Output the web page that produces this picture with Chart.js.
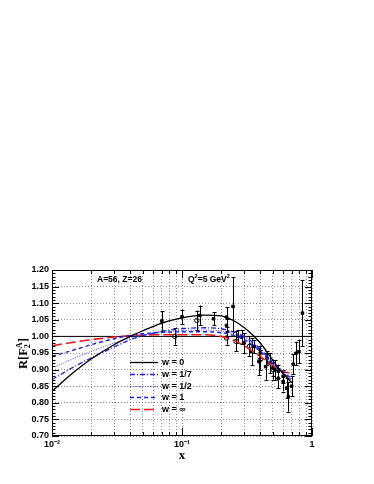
<!DOCTYPE html>
<html lang="en">
<head>
<meta charset="UTF-8">
<title>R[F2A] versus x</title>
<script src="https://cdn.jsdelivr.net/npm/chart.js"></script>
<style>
  body { margin: 0; background: #fff; }
  canvas { display: block; }
</style>
</head>
<body>
<canvas id="myChart" width="374" height="484"></canvas>
<script>
// model curves, all sampled at the same x values
let curveX  = [0.01, 0.015, 0.02, 0.03, 0.04, 0.05, 0.07, 0.1, 0.15, 0.2, 0.25, 0.3, 0.35, 0.4, 0.46, 0.55, 0.62, 0.7];
let wZero   = [0.835, 0.895, 0.932, 0.975, 1.000, 1.017, 1.040, 1.056, 1.064, 1.062, 1.047, 1.027, 1.004, 0.980, 0.948, 0.905, 0.882, 0.860];
let wSeven  = [0.870, 0.910, 0.935, 0.968, 0.990, 1.002, 1.015, 1.023, 1.026, 1.023, 1.013, 1.000, 0.982, 0.962, 0.935, 0.903, 0.885, 0.866];
let wHalf   = [0.905, 0.935, 0.955, 0.980, 0.995, 1.004, 1.012, 1.017, 1.019, 1.016, 1.007, 0.994, 0.977, 0.958, 0.932, 0.903, 0.886, 0.870];
let wOne    = [0.940, 0.960, 0.975, 0.993, 1.003, 1.008, 1.012, 1.014, 1.014, 1.011, 1.003, 0.990, 0.973, 0.955, 0.930, 0.904, 0.888, 0.874];
let wInf    = [0.972, 0.983, 0.990, 0.998, 1.002, 1.004, 1.005, 1.005, 1.005, 1.000, 0.988, 0.972, 0.955, 0.940, 0.922, 0.902, 0.893, 0.888];
let curveLabels = ["w = 0", "w = 1/7", "w = 1/2", "w = 1", "w = \u221e"];

// measured points (filled markers)
let ptsX   = [0.07, 0.10, 0.137, 0.175, 0.22, 0.22, 0.247, 0.268, 0.288, 0.30, 0.344, 0.36, 0.391, 0.40, 0.44, 0.45, 0.475, 0.50, 0.519, 0.55, 0.55, 0.60, 0.60, 0.638, 0.657, 0.698, 0.718, 0.753, 0.794, 0.845];
let ptsY   = [1.046, 1.059, 1.063, 1.053, 1.058, 1.033, 1.090, 1.000, 0.998, 0.980, 0.954, 0.970, 0.924, 0.950, 0.909, 0.935, 0.920, 0.905, 0.899, 0.874, 0.895, 0.864, 0.880, 0.844, 0.818, 0.850, 0.916, 0.949, 0.954, 1.070];
let ptsErr = [0.030, 0.022, 0.030, 0.020, 0.030, 0.020, 0.088, 0.020, 0.020, 0.030, 0.040, 0.020, 0.040, 0.020, 0.040, 0.020, 0.030, 0.025, 0.030, 0.030, 0.020, 0.030, 0.020, 0.030, 0.045, 0.030, 0.030, 0.035, 0.035, 0.100];

// measured points (open circles)
let openX   = [0.088, 0.13, 0.22, 0.26, 0.33, 0.40, 0.50];
let openY   = [1.000, 1.048, 0.995, 0.985, 0.970, 0.930, 0.900];
let openErr = [0.025, 0.030, 0.020, 0.030, 0.030, 0.030, 0.030];

// axes
let yMin = 0.70, yMax = 1.20, yStep = 0.05;
let xTickValues = [0.01, 0.02, 0.03, 0.04, 0.05, 0.06, 0.07, 0.08, 0.09,
                   0.1, 0.2, 0.3, 0.4, 0.5, 0.6, 0.7, 0.8, 0.9, 1];
let xTickLabels = { "0.01": "10\u207b\u00b2", "0.1": "10\u207b\u00b9", "1": "1" };
let xDecades = [0.01, 0.1, 1];

function pairs(xs, ys) {
    return xs.map((x, i) => ({ x: x, y: ys[i] }));
}

const SANS = "'Liberation Sans', Arial, sans-serif";
const SERIF = "'Liberation Serif', 'Times New Roman', serif";

// draws a text made of pieces, some raised or lowered
function drawRich(ctx, parts, x, y, size) {
    let cx = x;
    for (const p of parts) {
        let s = p.sup || p.sub ? size * 0.65 : size;
        ctx.font = "bold " + s + "px " + (p.serif ? SERIF : SANS);
        let dy = p.sup ? -size * 0.42 : (p.sub ? size * 0.25 : 0);
        ctx.fillText(p.t, cx, y + dy);
        if (!p.keep) cx += ctx.measureText(p.t).width;
    }
}

function drawBars(ctx, xs, ys, es, sx, sy) {
    ctx.strokeStyle = "#000";
    ctx.lineWidth = 1;
    ctx.setLineDash([]);
    for (let i = 0; i < xs.length; i++) {
        let px = Math.round(sx.getPixelForValue(xs[i])) + 0.5;
        let top = sy.getPixelForValue(ys[i] + es[i]);
        let bot = sy.getPixelForValue(ys[i] - es[i]);
        ctx.beginPath();
        ctx.moveTo(px, top); ctx.lineTo(px, bot);
        ctx.moveTo(px - 2, Math.round(top) + 0.5); ctx.lineTo(px + 2, Math.round(top) + 0.5);
        ctx.moveTo(px - 2, Math.round(bot) + 0.5); ctx.lineTo(px + 2, Math.round(bot) + 0.5);
        ctx.stroke();
    }
}

const rootStyle = {
    id: "rootStyle",
    beforeDatasetsDraw(chart) {
        const { ctx, scales: { x, y } } = chart;
        ctx.save();
        drawBars(ctx, ptsX, ptsY, ptsErr, x, y);
        drawBars(ctx, openX, openY, openErr, x, y);
        ctx.restore();
    },
    afterDraw(chart) {
        const { ctx, chartArea: a, scales: { x, y } } = chart;
        ctx.save();
        ctx.strokeStyle = "#000";
        ctx.lineWidth = 1;
        ctx.setLineDash([]);
        ctx.strokeRect(a.left + 0.5, a.top + 0.5, a.right - a.left - 1, a.bottom - a.top - 1);

        // ticks drawn inside the frame, like ROOT
        ctx.beginPath();
        for (let k = 0; k <= 50; k++) {
            let v = yMin + k * 0.01;
            let py = Math.round(y.getPixelForValue(v)) + 0.5;
            let len = k % 5 === 0 ? 7 : 3.5;
            ctx.moveTo(a.left, py); ctx.lineTo(a.left + len, py);
            ctx.moveTo(a.right, py); ctx.lineTo(a.right - len, py);
        }
        for (const v of xTickValues) {
            let px = Math.round(x.getPixelForValue(v)) + 0.5;
            let len = xDecades.includes(v) ? 8 : 4;
            ctx.moveTo(px, a.bottom); ctx.lineTo(px, a.bottom - len);
            ctx.moveTo(px, a.top); ctx.lineTo(px, a.top + len);
        }
        ctx.stroke();

        // legend
        let curves = chart.data.datasets.filter(d => d.inLegend);
        let rowY = a.top + 92;
        curves.forEach((d, i) => {
            let ly = Math.round(rowY + i * 11.8) + 0.5;
            ctx.beginPath();
            ctx.strokeStyle = d.borderColor;
            ctx.lineWidth = d.borderWidth;
            ctx.setLineDash(d.borderDash || []);
            ctx.moveTo(a.left + 78, ly);
            ctx.lineTo(a.left + 106, ly);
            ctx.stroke();
            ctx.setLineDash([]);
            ctx.fillStyle = "#000";
            ctx.font = "bold 9px " + SANS;
            ctx.textBaseline = "middle";
            ctx.fillText(d.label, a.left + 110, ly);
        });

        // annotations
        ctx.fillStyle = "#000";
        ctx.textBaseline = "alphabetic";
        drawRich(ctx, [{ t: "A=56, Z=26" }], 97, 282, 8.5);
        drawRich(ctx, [{ t: "Q" }, { t: "2", sup: true }, { t: "=5 GeV" }, { t: "2", sup: true }], 188, 282, 8.5);

        // axis titles
        ctx.font = "bold 13px " + SERIF;
        ctx.textAlign = "center";
        ctx.fillText("x", (a.left + a.right) / 2, 459);
        ctx.textAlign = "left";
        ctx.translate(27, 369);
        ctx.rotate(-Math.PI / 2);
        drawRich(ctx, [{ t: "R[F", serif: true }, { t: "2", sub: true, serif: true, keep: true },
                       { t: "A", sup: true, serif: true }, { t: "]", serif: true }], 0, 0, 12.5);
        ctx.restore();
    }
};

let ctx = document.getElementById("myChart").getContext("2d");
let myChart = new Chart(ctx, {
    type: "line",
    data: {
        datasets: [
            { label: "unity", data: pairs([0.01, 1], [1, 1]), borderColor: "#000", borderWidth: 1, pointRadius: 0, order: 9 },
            { label: curveLabels[0], inLegend: true, data: pairs(curveX, wZero), borderColor: "#000", borderWidth: 1.3, pointRadius: 0, cubicInterpolationMode: "monotone" },
            { label: curveLabels[1], inLegend: true, data: pairs(curveX, wSeven), borderColor: "#1f1fe6", borderWidth: 1.3, borderDash: [5, 2, 1, 2], pointRadius: 0, cubicInterpolationMode: "monotone" },
            { label: curveLabels[2], inLegend: true, data: pairs(curveX, wHalf), borderColor: "#3a3aff", borderWidth: 1, borderDash: [1, 1.5], pointRadius: 0, cubicInterpolationMode: "monotone" },
            { label: curveLabels[3], inLegend: true, data: pairs(curveX, wOne), borderColor: "#1f1fe6", borderWidth: 1.4, borderDash: [4, 3], pointRadius: 0, cubicInterpolationMode: "monotone" },
            { label: curveLabels[4], inLegend: true, data: pairs(curveX, wInf), borderColor: "#e51a1a", borderWidth: 1.6, borderDash: [10, 4], pointRadius: 0, cubicInterpolationMode: "monotone" },
            { label: "data", type: "scatter", data: pairs(ptsX, ptsY), showLine: false, pointStyle: "rect", pointRadius: 1.8, backgroundColor: "#000", borderColor: "#000", borderWidth: 1 },
            { label: "data open", type: "scatter", data: pairs(openX, openY), showLine: false, pointStyle: "circle", pointRadius: 2.2, backgroundColor: "rgba(0,0,0,0)", borderColor: "#000", borderWidth: 1 }
        ]
    },
    options: {
        responsive: false,
        animation: false,
        devicePixelRatio: 1,
        layout: { padding: { top: 270, right: 62, bottom: 0, left: 0 } },
        plugins: { legend: { display: false }, tooltip: { enabled: false } },
        scales: {
            x: {
                type: "logarithmic",
                min: 0.01,
                max: 1,
                afterBuildTicks: (scale) => { scale.ticks = xTickValues.map(v => ({ value: v, major: xDecades.includes(v) })); },
                afterFit: (scale) => { scale.height = 48; scale.paddingLeft = 0; scale.paddingRight = 0; },
                ticks: {
                    autoSkip: false,
                    maxRotation: 0,
                    padding: 3,
                    color: "#000",
                    font: { family: SANS, size: 9, weight: "bold" },
                    callback: (v) => xTickLabels[String(v)] || ""
                },
                grid: { color: "rgba(0,0,0,0.45)", lineWidth: 1, drawTicks: false, tickBorderDash: [1, 2] },
                border: { display: false, dash: [1, 2] }
            },
            y: {
                min: yMin,
                max: yMax,
                afterFit: (scale) => { scale.width = 52; scale.paddingTop = 0; scale.paddingBottom = 0; },
                ticks: {
                    stepSize: yStep,
                    padding: 3,
                    color: "#000",
                    font: { family: SANS, size: 9, weight: "bold" },
                    callback: (v) => v.toFixed(2)
                },
                grid: { color: "rgba(0,0,0,0.45)", lineWidth: 1, drawTicks: false },
                border: { display: false, dash: [1, 2] }
            }
        }
    },
    plugins: [rootStyle]
});
</script>
</body>
</html>
